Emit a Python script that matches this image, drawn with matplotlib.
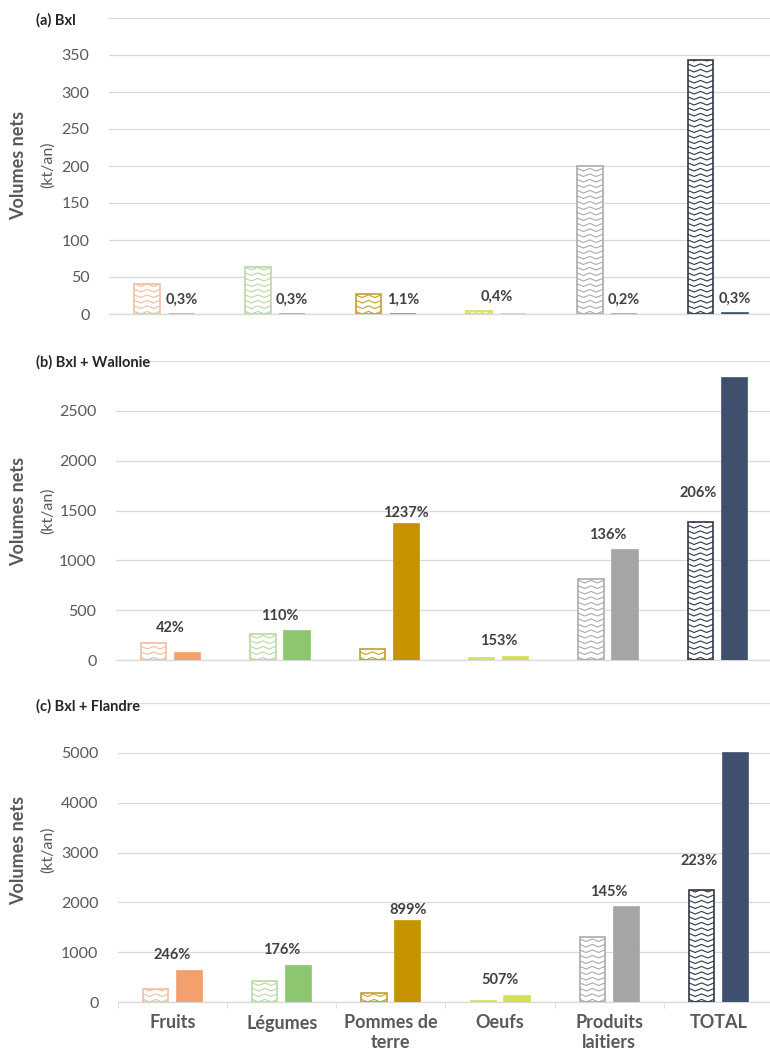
import numpy as np
import matplotlib.pyplot as plt

# -----------------------------
# DATA (kt/an)
# -----------------------------
categories = ["Fruits", "Légumes", "Pommes de\nterre", "Oeufs", "Produits\nlaitiers", "TOTAL"]

# (a) Bxl
conso_bxl = [40, 64, 27, 4, 200, 343]
prod_bxl = [0.12, 0.19, 0.30, 0.016, 0.40, 1.03]
pct_bxl = ["0,3%", "0,3%", "1,1%", "0,4%", "0,2%", "0,3%"]

# (b) Bxl + Wallonie
conso_wal = [170, 265, 110, 22, 810, 1380]
prod_wal = [71, 290, 1361, 34, 1100, 2830]
pct_wal = ["42%", "110%", "1237%", "153%", "136%", "206%"]

# (c) Bxl + Flandre
conso_fla = [255, 415, 180, 25, 1310, 2240]
prod_fla = [630, 730, 1618, 127, 1900, 4990]
pct_fla = ["246%", "176%", "899%", "507%", "145%", "223%"]

# -----------------------------
# STYLE
# -----------------------------
solid_colors = ["#F4A06E", "#8CC66F", "#C69200", "#D4E04F", "#A5A5A5", "#3E506E"]
hatch_colors = ["#F0BFA4", "#B9D9A2", "#C2A12A", "#D4E04F", "#ABABAB", "#2E3846"]
grid_col = "#D9D9D9"
txt_col = "#595959"
lab_col = "#404040"
FONT = ["Lato", "DejaVu Sans"]
plt.rcParams["font.family"] = FONT

W, H = 770, 1055
fig = plt.figure(figsize=(W / 100, H / 100), dpi=100)

# panel: title, conso, prod, pct, ymax, step, [left, bottom, width, height], ylabel centre, title y (px)
panels = [
    ("(a) Bxl", conso_bxl, prod_bxl, pct_bxl, 400, 50,
     [109 / W, 1 - 314 / H, 664 / W, 296 / H], 165, 20),
    ("(b) Bxl + Wallonie", conso_wal, prod_wal, pct_wal, 3000, 500,
     [116 / W, 1 - 660 / H, 656 / W, 299 / H], 511, 362),
    ("(c) Bxl + Flandre", conso_fla, prod_fla, pct_fla, 6000, 1000,
     [118 / W, 1 - 1002 / H, 655 / W, 299 / H], 850, 706),
]

bw = 0.23
off = 0.155


def zigzag(ax, bar, color, ymax, ax_h_px, period_px=5.5, amp_px=2.6):
    # wave pattern inside a hatched bar, clipped to the bar
    x0, w, h = bar.get_x(), bar.get_width(), bar.get_height()
    per = period_px * ymax / ax_h_px
    amp = amp_px * ymax / ax_h_px
    xs, ys = [], []
    fx = np.array([0, 0.25, 0.5, 0.75, 1.0])
    fy = np.array([1, 0, 1, 0, 1])
    for y in np.arange(-per, h + per, per):
        xs += list(x0 + w * fx) + [np.nan]
        ys += list(y + amp * fy) + [np.nan]
    ln, = ax.plot(xs, ys, color=color, lw=0.8, zorder=4)
    ln.set_clip_path(bar)


for k, (title, conso, prod, pct, ymax, step, rect, ylab_y, title_y) in enumerate(panels):
    ax = fig.add_axes(rect)
    x = np.arange(len(categories))
    ax.set_xlim(-0.5, len(categories) - 0.5)
    ax.set_ylim(0, ymax)
    ax_h_px = rect[3] * H

    b1 = ax.bar(x - off, conso, bw, color="white", edgecolor=hatch_colors, linewidth=1.2, zorder=3)
    b2 = ax.bar(x + off, prod, bw, color=solid_colors, edgecolor=solid_colors, linewidth=1.2, zorder=3)
    for i, bar in enumerate(b1):
        zigzag(ax, bar, hatch_colors[i], ymax, ax_h_px)

    # percentage labels
    for i in range(len(categories)):
        if k == 0:
            dx = 0.0 if i == 3 else off
            base = conso[i] if i == 3 else prod[i]
            pad = 5
        elif i == 5:
            dx, base, pad = -off - 0.02, conso[i], 16
        elif i == 2:
            dx, base, pad = off, prod[i], 3
        else:
            dx, base, pad = 0.0, max(conso[i], prod[i]), 6
        ax.annotate(pct[i], (x[i] + dx, base), xytext=(0, pad), textcoords="offset points",
                    ha="center", va="bottom", fontsize=10.5, fontweight="bold", color=lab_col)

    ticks = np.arange(0, ymax + 1, step)
    ax.set_yticks(ticks)
    ax.set_yticklabels([str(t) for t in ticks[:-1]] + [""])
    ax.yaxis.grid(True, color=grid_col, linewidth=0.9, zorder=0)
    ax.set_axisbelow(True)
    ax.tick_params(axis="y", length=0, pad=14, labelsize=11.5, labelcolor=txt_col)
    for s in ["top", "right", "left"]:
        ax.spines[s].set_visible(False)
    ax.spines["bottom"].set_color(grid_col)
    ax.spines["bottom"].set_linewidth(0.9)

    if k == 2:
        ax.set_xticks(x)
        ax.set_xticklabels(categories, fontsize=13, fontweight="bold", color=txt_col,
                           linespacing=1.2)
        ax.set_xticks(np.arange(-0.5, len(categories), 1.0), minor=True)
        ax.tick_params(axis="x", which="major", length=0, pad=9)
        ax.tick_params(axis="x", which="minor", length=4, color=grid_col)
    else:
        ax.set_xticks([])

    fig.text(36 / W, 1 - title_y / H, title, fontsize=10.5, fontweight="bold",
             color="#262626", va="center", ha="left")
    fig.text(19 / W, 1 - ylab_y / H, "Volumes nets", rotation=90, fontsize=13,
             fontweight="bold", color=txt_col, va="center", ha="center")
    fig.text(48 / W, 1 - ylab_y / H, "(kt/an)", rotation=90, fontsize=11.5,
             color=txt_col, va="center", ha="center")

fig.savefig("out.png", dpi=100)
